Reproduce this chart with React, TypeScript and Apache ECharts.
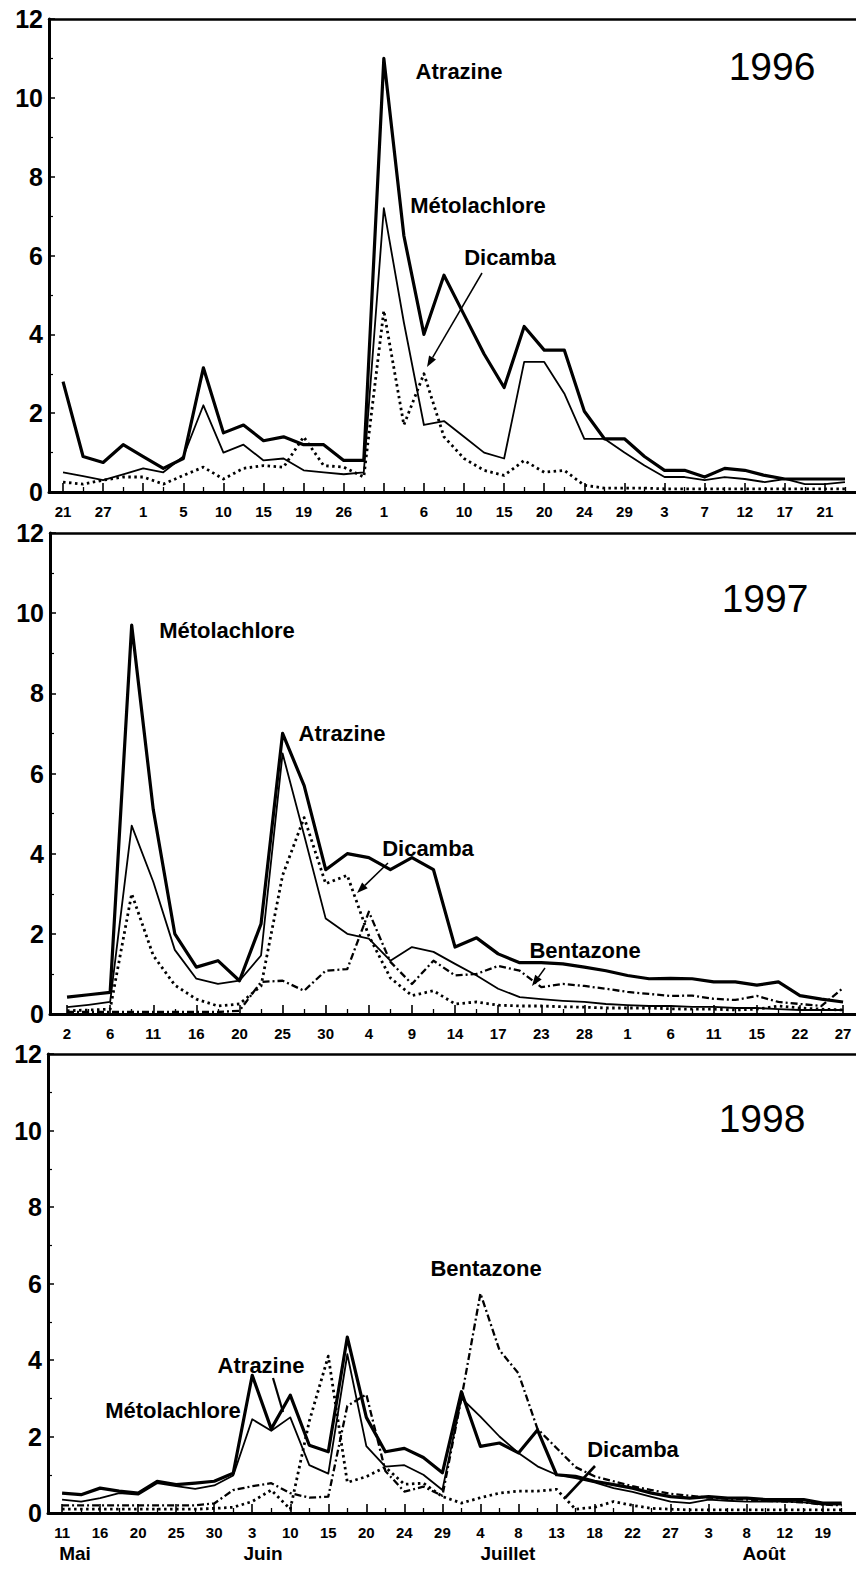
import React, { useEffect, useRef } from 'react';
import * as echarts from 'echarts';

// ---------- data ----------
const ticks1996 = ['21', '27', '1', '5', '10', '15', '19', '26', '1', '6', '10', '15', '20', '24', '29', '3', '7', '12', '17', '21'];
const ticks1997 = ['2', '6', '11', '16', '20', '25', '30', '4', '9', '14', '17', '23', '28', '1', '6', '11', '15', '22', '27'];
const ticks1998 = ['11', '16', '20', '25', '30', '3', '10', '15', '20', '24', '29', '4', '8', '13', '18', '22', '27', '3', '8', '12', '19'];
const months1998 = ['Mai', 'Juin', 'Juillet', 'Août'];
const yTicks = [0, 2, 4, 6, 8, 10, 12];

const atrazine96 = [2.8, 0.9, 0.75, 1.2, 0.9, 0.6, 0.85, 3.15, 1.5, 1.7, 1.3, 1.4, 1.2, 1.2, 0.8, 0.8, 11.0, 6.5, 4.0, 5.5, 4.5, 3.5, 2.65, 4.2, 3.6, 3.6, 2.05, 1.35, 1.35, 0.9, 0.55, 0.55, 0.38, 0.6, 0.55, 0.42, 0.33, 0.33, 0.33, 0.33];
const metolachlore96 = [0.5, 0.4, 0.3, 0.45, 0.6, 0.5, 0.9, 2.2, 1.0, 1.2, 0.8, 0.85, 0.55, 0.5, 0.45, 0.5, 7.2, 4.3, 1.7, 1.8, 1.4, 1.0, 0.85, 3.3, 3.3, 2.5, 1.35, 1.35, 1.0, 0.67, 0.38, 0.38, 0.3, 0.38, 0.33, 0.25, 0.33, 0.2, 0.2, 0.25];
const dicamba96 = [0.25, 0.2, 0.3, 0.38, 0.38, 0.2, 0.42, 0.63, 0.33, 0.6, 0.67, 0.63, 1.4, 0.67, 0.63, 0.38, 4.6, 1.7, 3.0, 1.4, 0.85, 0.55, 0.42, 0.8, 0.5, 0.55, 0.17, 0.1, 0.1, 0.1, 0.08, 0.08, 0.08, 0.08, 0.08, 0.08, 0.08, 0.08, 0.08, 0.08];

const atrazine97 = [0.42, 0.48, 0.54, 9.7, 5.1, 2.0, 1.17, 1.33, 0.83, 2.25, 7.0, 5.7, 3.6, 4.0, 3.9, 3.6, 3.9, 3.6, 1.67, 1.9, 1.5, 1.28, 1.28, 1.25, 1.17, 1.08, 0.96, 0.88, 0.89, 0.88, 0.8, 0.8, 0.72, 0.8, 0.46, 0.37, 0.3];
const metolachlore97 = [0.17, 0.23, 0.3, 4.7, 3.3, 1.6, 0.88, 0.75, 0.83, 1.46, 6.5, 4.46, 2.38, 2.0, 1.88, 1.33, 1.67, 1.55, 1.25, 0.96, 0.63, 0.42, 0.37, 0.33, 0.3, 0.25, 0.22, 0.2, 0.2, 0.18, 0.18, 0.15, 0.15, 0.12, 0.1, 0.1, 0.1];
const dicamba97 = [0.08, 0.1, 0.12, 3.0, 1.46, 0.72, 0.37, 0.2, 0.25, 0.7, 3.46, 4.9, 3.25, 3.46, 1.95, 0.9, 0.46, 0.58, 0.25, 0.3, 0.22, 0.2, 0.2, 0.18, 0.17, 0.15, 0.15, 0.15, 0.13, 0.12, 0.12, 0.1, 0.12, 0.2, 0.15, 0.12, 0.1];
const bentazone97 = [0.05, 0.05, 0.05, 0.05, 0.05, 0.05, 0.05, 0.05, 0.08, 0.8, 0.83, 0.58, 1.08, 1.12, 2.55, 1.3, 0.75, 1.33, 0.96, 1.0, 1.2, 1.08, 0.67, 0.75, 0.7, 0.63, 0.55, 0.5, 0.45, 0.46, 0.38, 0.35, 0.45, 0.3, 0.25, 0.2, 0.65];

const atrazine98 = [0.52, 0.48, 0.65, 0.57, 0.52, 0.83, 0.74, 0.78, 0.83, 1.04, 3.6, 2.2, 3.08, 1.77, 1.6, 4.6, 2.5, 1.6, 1.69, 1.45, 1.05, 3.17, 1.74, 1.83, 1.57, 2.17, 1.0, 0.96, 0.83, 0.74, 0.65, 0.52, 0.43, 0.39, 0.43, 0.39, 0.39, 0.35, 0.35, 0.35, 0.26, 0.26];
const metolachlore98 = [0.35, 0.3, 0.39, 0.52, 0.48, 0.78, 0.7, 0.63, 0.72, 0.98, 2.45, 2.15, 2.5, 1.25, 1.03, 4.15, 1.75, 1.21, 1.25, 1.0, 0.6, 3.0, 2.52, 2.0, 1.57, 1.22, 1.0, 0.91, 0.8, 0.65, 0.55, 0.42, 0.3, 0.26, 0.35, 0.32, 0.3, 0.3, 0.3, 0.28, 0.22, 0.22];
const dicamba98 = [0.1, 0.1, 0.1, 0.1, 0.1, 0.1, 0.1, 0.1, 0.12, 0.15, 0.3, 0.6, 0.1, 2.4, 4.1, 0.8, 0.95, 1.2, 0.75, 0.78, 0.43, 0.26, 0.4, 0.52, 0.57, 0.57, 0.62, 0.1, 0.15, 0.3, 0.2, 0.12, 0.1, 0.08, 0.08, 0.08, 0.08, 0.08, 0.08, 0.08, 0.08, 0.08];
const bentazone98 = [0.2, 0.2, 0.2, 0.2, 0.2, 0.2, 0.2, 0.2, 0.25, 0.6, 0.7, 0.78, 0.52, 0.4, 0.43, 2.8, 3.1, 1.1, 0.56, 0.69, 0.45, 3.0, 5.74, 4.26, 3.65, 2.2, 1.7, 1.2, 0.96, 0.83, 0.7, 0.6, 0.5, 0.45, 0.4, 0.37, 0.35, 0.32, 0.3, 0.28, 0.22, 0.2];

// ---------- styles ----------
const FONT = 'Arial, "Liberation Sans", Helvetica, sans-serif';
const INK = '#000';
const STYLE: Record<string, any> = {
  Atrazine: { width: 3.2, type: 'solid' },
  'Métolachlore': { width: 1.8, type: 'solid' },
  Dicamba: { width: 2.8, type: [2.5, 3.5] },
  Bentazone: { width: 2.3, type: [7, 3, 2, 3] },
};

const panels = [
  {
    grid: { left: 49, top: 19, width: 807, height: 473 },
    min: -0.7, max: 39.55, ticks: ticks1996, nPts: atrazine96.length,
    series: [['Dicamba', dicamba96], ['Métolachlore', metolachlore96], ['Atrazine', atrazine96]],
  },
  {
    grid: { left: 50, top: 533, width: 806, height: 481 },
    min: -0.79, max: 36.6, ticks: ticks1997, nPts: atrazine97.length,
    series: [['Bentazone', bentazone97], ['Dicamba', dicamba97], ['Métolachlore', metolachlore97], ['Atrazine', atrazine97]],
  },
  {
    grid: { left: 48, top: 1054, width: 808, height: 459 },
    min: -0.74, max: 41.75, ticks: ticks1998, nPts: atrazine98.length,
    series: [['Bentazone', bentazone98], ['Dicamba', dicamba98], ['Métolachlore', metolachlore98], ['Atrazine', atrazine98]],
  },
];

function txt(text: string, x: number, y: number, size: number, weight = 'bold') {
  return {
    type: 'text', x, y, silent: true, z: 100,
    style: { text, fill: INK, font: `${weight} ${size}px ${FONT}`, textAlign: 'center', textVerticalAlign: 'middle' },
  };
}
function seg(x1: number, y1: number, x2: number, y2: number, w = 1.6) {
  return { type: 'line', silent: true, z: 100, shape: { x1, y1, x2, y2 }, style: { stroke: INK, lineWidth: w } };
}
function arrow(x1: number, y1: number, x2: number, y2: number) {
  const dx = x2 - x1, dy = y2 - y1, L = Math.hypot(dx, dy);
  const ux = dx / L, uy = dy / L, bx = x2 - ux * 11, by = y2 - uy * 11;
  return [
    seg(x1, y1, bx, by, 1.5),
    { type: 'polygon', silent: true, z: 100, shape: { points: [[x2, y2], [bx + uy * 4, by - ux * 4], [bx - uy * 4, by + ux * 4]] }, style: { fill: INK } },
  ];
}

export default function App() {
  const ref = useRef<HTMLDivElement>(null);
  useEffect(() => {
    if (!ref.current) return;
    const chart = echarts.init(ref.current, undefined, { renderer: 'svg' });
    const xAxis: any[] = [], yAxis: any[] = [], series: any[] = [];
    panels.forEach((p, gi) => {
      const evens: number[] = [], odds: number[] = [];
      for (let i = 0; i < p.nPts; i++) (i % 2 === 0 && i / 2 < p.ticks.length ? evens : odds).push(i);
      xAxis.push({
        type: 'value', gridIndex: gi, min: p.min, max: p.max, position: 'bottom',
        axisLine: { show: true, onZero: false, lineStyle: { color: INK, width: 3 } },
        axisTick: { show: true, inside: true, length: 9, customValues: evens, lineStyle: { color: INK, width: 1.6 } },
        axisLabel: {
          show: true, customValues: evens, margin: 12, color: INK, fontSize: 15, fontWeight: 'bold', fontFamily: FONT,
          formatter: (v: number) => p.ticks[Math.round(v / 2)] ?? '',
        },
        splitLine: { show: false },
      });
      xAxis.push({
        type: 'value', gridIndex: gi, min: p.min, max: p.max, position: 'bottom',
        axisLine: { show: false },
        axisTick: { show: true, inside: true, length: 5, customValues: odds, lineStyle: { color: INK, width: 1.3 } },
        axisLabel: { show: false, customValues: odds },
        splitLine: { show: false },
      });
      xAxis.push({
        type: 'value', gridIndex: gi, min: p.min, max: p.max, position: 'top',
        axisLine: { show: true, onZero: false, lineStyle: { color: INK, width: 2.5 } },
        axisTick: { show: false }, axisLabel: { show: false }, splitLine: { show: false },
      });
      yAxis.push({
        type: 'value', gridIndex: gi, min: 0, max: 12, interval: 2,
        axisLine: { show: true, onZero: false, lineStyle: { color: INK, width: 3 } },
        axisTick: { show: true, inside: true, length: 6, lineStyle: { color: INK, width: 1.5 } },
        minorTick: { show: true, splitNumber: 2, length: 4, lineStyle: { color: INK, width: 1.2 } },
        axisLabel: {
          color: INK, fontSize: 25, fontWeight: 'bold', fontFamily: FONT, margin: 6,
          formatter: (v: number) => (yTicks.includes(v) ? String(v) : ''),
        },
        splitLine: { show: false },
      });
      p.series.forEach(([name, vals]: any) => {
        const st = STYLE[name];
        series.push({
          type: 'line', name, xAxisIndex: gi * 3, yAxisIndex: gi, showSymbol: false, silent: true,
          data: (vals as number[]).map((v, i) => [i, v]),
          lineStyle: { color: INK, width: st.width, type: st.type, cap: 'butt', join: 'round' },
          z: name === 'Atrazine' ? 5 : 4,
        });
      });
    });

    const graphic: any[] = [
      // 1996
      txt('Atrazine', 459, 71, 22), txt('Métolachlore', 478, 205, 22), txt('Dicamba', 510, 257, 22),
      txt('1996', 772, 66, 39, 'normal'),
      ...arrow(482, 273, 427, 367),
      // 1997
      txt('Métolachlore', 227, 630, 22), txt('Atrazine', 342, 733, 22), txt('Dicamba', 428, 848, 22),
      txt('Bentazone', 585, 950, 22), txt('1997', 765, 598, 39, 'normal'),
      ...arrow(388, 863, 357, 893),
      ...arrow(545, 968, 532, 986),
      // 1998
      txt('Atrazine', 261, 1365, 22), txt('Métolachlore', 173, 1410, 22), txt('Bentazone', 486, 1268, 22),
      txt('Dicamba', 633, 1449, 22), txt('1998', 762, 1118, 39, 'normal'),
      seg(273, 1378, 283, 1412, 2.2),
      seg(595, 1466, 565, 1498, 2.6),
      txt(months1998[0], 75, 1553, 19), txt(months1998[1], 263, 1553, 19),
      txt(months1998[2], 508, 1553, 19), txt(months1998[3], 764, 1553, 19),
    ];

    chart.setOption({
      animation: false,
      backgroundColor: '#fff',
      grid: panels.map((p) => ({ ...p.grid, containLabel: false })),
      xAxis, yAxis, series, graphic,
    });
    return () => chart.dispose();
  }, []);
  return <div ref={ref} style={{ position: 'absolute', left: 0, top: 0, width: 856, height: 1594, background: '#fff' }} />;
}
